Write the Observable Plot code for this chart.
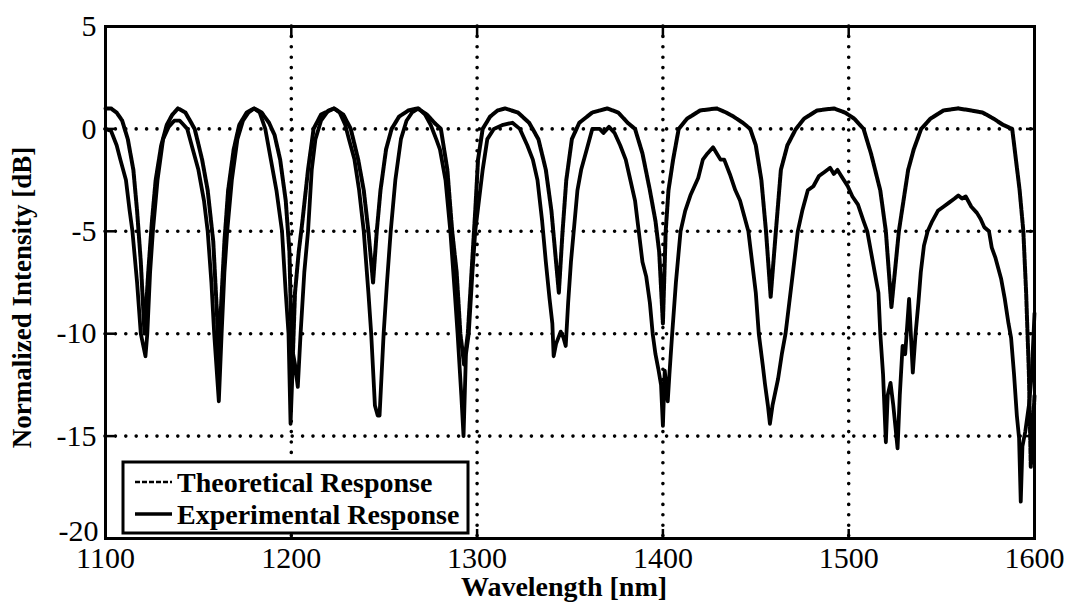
<!DOCTYPE html>
<html>
<head>
<meta charset="utf-8">
<script src="https://cdn.jsdelivr.net/npm/d3@7"></script>
<script src="https://cdn.jsdelivr.net/npm/@observablehq/plot@0.6"></script>
<style>
  html, body { margin: 0; padding: 0; background: white; }
</style>
</head>
<body>
<div id="chart"></div>
<script>
// ---- Data ----
const xTicks = [1100, 1200, 1300, 1400, 1500, 1600];
const yTicks = [5, 0, -5, -10, -15, -20];
const xGrid = [1200, 1300, 1400, 1500];
const yGrid = [0, -5, -10, -15];

const seriesNames = ["Theoretical Response", "Experimental Response"];

const theoryWl = [1100,1103,1106,1109,1112,1115,1117,1119,1121,1123,1125,1127,1130,1133,1136,1139,
  1143,1148,1152,1155,1158,1160,1161,1162,1164,1166,1169,1172,1176,1180,
  1184,1188,1191,1194,1197,1199,1200.5,1202,1204,1206,1209,1212,1216,1223,
  1228,1232,1236,1239,1241.5,1244,1246,1248,1251,1254,1258,1263,1268,
  1273,1277,1280.5,1284,1286.6,1289,1291,1293,1295,1297,1299,1300.5,1303,1307,1311,1315,
  1322,1328,1333,1337,1340,1342,1344,1346,1348,1351,1355,1362,1370,
  1376,1381,1385,1389,1393,1396,1398,1400,1401.5,1403,1405.5,1408.5,1413,1420,1429,
  1434,1438,1443,1447,1450,1453,1455.5,1458,1460.8,1463.5,1467,1471.6,1476,1483,1492,
  1498,1503,1508,1512,1517,1520,1523,1527,1532,1535,1539,1544,1551,1559,
  1566,1572,1578,1583,1588,1590,1592,1594,1595.5,1597,1598,1599,1600];
const theoryDb = [1.0,1.0,0.8,0.4,-0.5,-2,-4,-6.5,-10,-7,-4.5,-2.5,-0.8,0.2,0.7,1.0,
  0.8,0,-1.5,-3,-5.5,-9,-12,-9,-5.5,-3,-1,0.2,0.8,1.0,
  0.8,0.3,-0.3,-1.5,-3.5,-6,-12,-8,-6,-4.5,-2,0,0.7,1.0,
  0.7,0,-1.5,-3,-5,-7.5,-5,-3,-1,0,0.6,0.9,1.0,
  0.7,0.3,0,-2,-5,-7,-10,-11.5,-10,-7,-4,-1.5,0,0.6,0.9,1.0,
  0.8,0.3,-0.5,-2,-4,-6,-8,-5,-2.5,-0.5,0.3,0.8,1.0,
  0.8,0.3,0,-1.2,-3,-4.5,-6,-9.5,-5,-3,-1.5,0,0.5,0.9,1.0,
  0.8,0.6,0.3,0,-0.8,-2.5,-5,-8.2,-5,-2,-0.8,0,0.5,0.9,1.0,
  0.8,0.5,0,-1.2,-3,-5,-8.7,-5,-2,-1,0,0.5,0.9,1.0,
  0.9,0.8,0.5,0.2,0,-1.5,-3,-5,-8,-12,-16.5,-15,-13];

const expWl = [1100,1103,1106,1108,1111,1113,1114.5,1117,1119,1121.5,1122.5,1124,1125.5,1128,1131,1134,1137,1140,
  1142,1144,1147,1150,1153,1155,1157,1158.5,1161,1162.5,1164,1165.5,1168,1171,1174,1177,1180,
  1183,1186,1189,1192,1195,1197,1198.5,1199.6,1201,1202,1203.5,1205,1207,1209,1211,1213,1216,1220,1223,
  1226,1229,1231,1234,1236.5,1239,1241.5,1243,1245,1246.5,1247.5,1249.7,1251.5,1253.5,1256,1259,1262,1265,1268.5,
  1272,1275,1278,1280,1283,1285.6,1288,1289.5,1291.5,1292.7,1294,1295.5,1297.5,1299,1301,1303,1305.5,1309,1314,1319,
  1323,1327,1330,1332.5,1335,1337,1339,1340.5,1341.2,1342.5,1345,1346.5,1347.7,1349,1350.5,1352,1354,1356,1359,1362,1366,1368,1371,
  1374,1377,1380,1382,1385,1387,1389,1391,1393,1394.5,1396,1397.5,1399,1400,1401,1402.6,1403.5,1405,1407,1409.5,1412,1415,1419,1421.5,1424,1427,
  1429,1431,1433,1436,1439,1441.5,1443,1446,1448,1450,1451.6,1453.7,1455,1456.5,1457.6,1459,1462,1464,1466,1468,1470,1472.6,1475,1478,1481,1484,1487,1490,
  1492,1494,1496,1499.5,1502,1505,1508,1510,1512,1514.6,1516,1517,1518.5,1520,1521,1522.5,1524,1526.3,1527.5,1529,1530.4,1532.5,1534.5,1536,1537.5,1538.8,1540.5,1542.5,1545,1548,1551,1554,1557,1559,
  1561,1563,1566,1569,1571,1573,1575.5,1577,1579,1582,1584,1586,1587.4,1589,1590.5,1591.7,1592.6,1593.5,1595,1597,1598.5,1600];
const expDb = [0,-0.1,-0.8,-1.5,-2.5,-4,-5,-7.5,-10,-11.1,-10,-7,-5,-2.5,-0.5,0.1,0.4,0.4,
  0.2,0,-1,-2,-3.5,-5,-7.5,-10,-13.3,-10,-7,-5,-2.5,-0.5,0.4,0.8,1.0,
  0.8,0,-1.5,-3,-5,-8,-10,-14.4,-11,-11.5,-12.6,-10,-7,-5,-2,-0.5,0.4,0.9,1.0,
  0.8,0.2,-0.5,-1.5,-3,-5,-8,-10,-13.5,-14,-14,-10,-7.5,-5,-2.5,-0.5,0.4,0.8,1.0,
  0.7,0.2,-0.5,-1,-2.5,-5,-8,-10,-13,-15,-11,-10,-7,-5,-3.5,-2,-0.5,0,0.2,0.3,
  0,-0.8,-1.5,-2.5,-4.5,-6.5,-8.3,-9.5,-11.1,-10.5,-9.9,-10.2,-10.6,-8.5,-6.5,-5,-3,-2,-1,0,0,-0.2,0.1,
  -0.2,-0.8,-1.5,-2.3,-3.5,-5,-6.5,-7.2,-8.5,-10,-11,-11.7,-12.5,-14.5,-11.8,-13.3,-12,-10,-7.5,-5,-4,-3.2,-2.4,-1.5,-1.2,-0.9,
  -1.2,-1.5,-1.5,-2.2,-3,-3.5,-4,-5,-6.5,-8,-10,-11.5,-12.5,-13.5,-14.4,-13.5,-12.2,-11,-10,-8.5,-7,-5,-4,-3,-2.8,-2.3,-2.1,-1.9,
  -2.2,-2.0,-2.3,-2.8,-3.3,-3.7,-4.5,-5,-6,-7.3,-8,-10,-12,-15.3,-13,-12.4,-13.5,-15.6,-13,-10.6,-11,-8.3,-11.9,-10,-8.5,-7,-5.7,-5,-4.5,-4,-3.8,-3.6,-3.4,-3.25,
  -3.4,-3.3,-3.8,-4.1,-4.4,-4.8,-5,-5.8,-6.3,-7.3,-8.3,-9.5,-10.2,-12,-14,-15.1,-18.2,-15.5,-14.8,-13.5,-12,-9];

// ---- Build tables ----
const theory = theoryWl.map((w, i) => ({wl: w, db: theoryDb[i], series: seriesNames[0]}));
const experiment = expWl.map((w, i) => ({wl: w, db: expDb[i], series: seriesNames[1]}));
const yTicksUpper = yTicks.filter(d => d > -20);
const yTicksBottom = yTicks.filter(d => d === -20);

const fmt = d => String(d);
const serif = "'Liberation Serif', 'Times New Roman', serif";

const svg = Plot.plot({
  width: 1071,
  height: 611,
  marginLeft: 105,
  marginRight: 37,
  marginTop: 26,
  marginBottom: 73,
  style: {fontFamily: serif, fontSize: "29px", color: "black", background: "white", overflow: "visible"},
  x: {domain: [1100, 1600]},
  y: {domain: [-20, 5]},
  marks: [
    // dotted grid
    Plot.ruleX(xGrid, {stroke: "black", strokeWidth: 3.6, strokeDasharray: "0,10.4", strokeLinecap: "round"}),
    Plot.ruleY(yGrid, {stroke: "black", strokeWidth: 3.6, strokeDasharray: "0,10.4", strokeLinecap: "round"}),
    // curves
    Plot.line(theory, {x: "wl", y: "db", stroke: "black", strokeWidth: 4, strokeDasharray: "6,1", strokeLinejoin: "round"}),
    Plot.line(experiment, {x: "wl", y: "db", stroke: "black", strokeWidth: 3.8, strokeLinejoin: "round"}),
    // inward ticks
    Plot.axisX(xTicks, {anchor: "bottom", tickSize: -9, text: null, strokeWidth: 2.5, label: null}),
    Plot.axisX(xTicks, {anchor: "top", tickSize: -9, text: null, strokeWidth: 2.5, label: null}),
    Plot.axisY(yTicks, {anchor: "left", tickSize: -9, text: null, strokeWidth: 2.5, label: null}),
    Plot.axisY(yTicks, {anchor: "right", tickSize: -9, text: null, strokeWidth: 2.5, label: null}),
    // tick labels
    Plot.axisX(xTicks, {anchor: "bottom", tickSize: 0, tickPadding: 8, tickFormat: fmt, fontSize: 30, label: null}),
    Plot.axisY(yTicksUpper, {anchor: "left", tickSize: 0, tickPadding: 9, tickFormat: fmt, fontSize: 30, label: null}),
    Plot.axisY(yTicksBottom, {anchor: "left", tickSize: 0, tickPadding: 7, tickFormat: fmt, fontSize: 30, dy: -7, label: null}),
    // axis titles
    Plot.text(["Wavelength [nm]"], {frameAnchor: "bottom", dy: 57, dx: -6, textAnchor: "middle", fontWeight: "bold", fontSize: 28, fill: "black"}),
    Plot.text(["Normalized Intensity [dB]"], {frameAnchor: "left", dx: -83, dy: 15, textAnchor: "middle", rotate: -90, fontWeight: "bold", fontSize: 27, fill: "black"}),
    Plot.frame({stroke: "black", strokeWidth: 3})
  ]
});

// ---- Legend (inside the plot, lower left) ----
const g = d3.select(svg).append("g")
  .attr("font-family", serif).attr("font-weight", "bold").attr("font-size", 28)
  .attr("text-anchor", "start").attr("fill", "black");
g.append("rect").attr("x", 123).attr("y", 462).attr("width", 345).attr("height", 71)
  .attr("fill", "white").attr("stroke", "black").attr("stroke-width", 3);
g.append("line").attr("x1", 135).attr("x2", 172).attr("y1", 482).attr("y2", 482)
  .attr("stroke", "black").attr("stroke-width", 2.4).attr("stroke-dasharray", "5,2");
g.append("line").attr("x1", 135).attr("x2", 172).attr("y1", 514).attr("y2", 514)
  .attr("stroke", "black").attr("stroke-width", 3.4);
g.append("text").attr("x", 177).attr("y", 492).attr("text-anchor", "start").text(seriesNames[0]);
g.append("text").attr("x", 177).attr("y", 524).attr("text-anchor", "start").text(seriesNames[1]);

document.getElementById("chart").appendChild(svg);
</script>
</body>
</html>
